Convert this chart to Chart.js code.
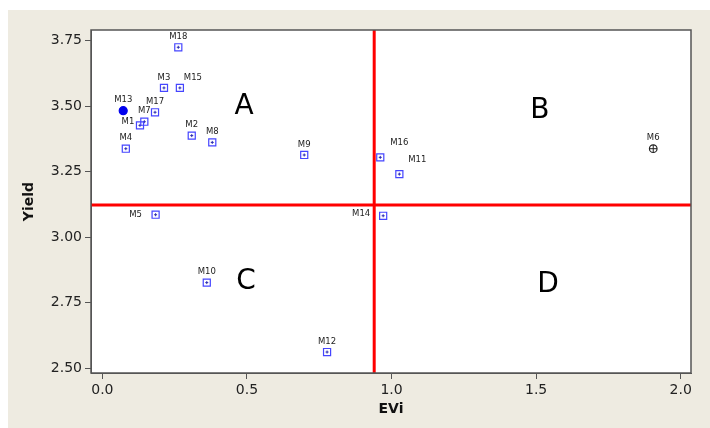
<!DOCTYPE html>
<html>
<head>
<meta charset="utf-8">
<title>Yield vs EVi</title>
<script src="https://cdn.jsdelivr.net/npm/chart.js@4/dist/chart.umd.min.js"></script>
<style>
  html, body { margin: 0; padding: 0; background: #ffffff; }
  canvas { display: block; }
</style>
</head>
<body>
<canvas id="chart" width="710" height="428"></canvas>
<script>
// Data
const names = ["M1", "M2", "M3", "M4", "M5", "M6", "M7", "M8", "M9", "M10",
  "M11", "M12", "M13", "M14", "M15", "M16", "M17", "M18"];
const evi = [0.130, 0.309, 0.213, 0.081, 0.184, 1.905, 0.145, 0.380, 0.698, 0.361,
  1.027, 0.777, 0.072, 0.971, 0.268, 0.961, 0.182, 0.2625];
const yieldVals = [3.427, 3.388, 3.570, 3.338, 3.086, 3.338, 3.441, 3.362, 3.314, 2.827,
  3.241, 2.562, 3.483, 3.082, 3.570, 3.305, 3.477, 3.725];

// Reference lines (mean EVi, mean yield)
const eviCut = 0.94;
const yieldCut = 3.123;

// Quadrant letters
const quadrantNames = ["A", "B", "C", "D"];
const quadrantEvi = [0.49, 1.513, 0.497, 1.541];
const quadrantYield = [3.497, 3.483, 2.832, 2.818];

// Tick labels
const xTicks = [0.0, 0.5, 1.0, 1.5, 2.0];
const yTicks = [2.50, 2.75, 3.00, 3.25, 3.50, 3.75];

const xMin = -0.0394, xMax = 2.0356;
const yMin = 2.482, yMax = 3.791;

// Label offsets in pixels (dx, dy) relative to each point
const labelOffsets = {
  M1: [-12, -4], M5: [-20, 0], M14: [-22, -2],
  M15: [13, -10], M16: [19, -15], M11: [18, -14]
};

const points = names.map((n, i) => ({ x: evi[i], y: yieldVals[i] }));

function markerStyle(ctx) {
  const n = names[ctx.dataIndex];
  if (n === "M13") return "circle";
  if (n === "M6") return "circle";
  return "rect";
}

const beige = "#eeebe1";

const backgroundPlugin = {
  id: "background",
  beforeDraw(chart) {
    const { ctx, chartArea } = chart;
    ctx.save();
    ctx.fillStyle = "#ffffff";
    ctx.fillRect(0, 0, chart.width, chart.height);
    ctx.fillStyle = beige;
    ctx.fillRect(8, 10, chart.width - 8, chart.height - 10);
    ctx.fillStyle = "#ffffff";
    ctx.fillRect(chartArea.left, chartArea.top,
      chartArea.right - chartArea.left, chartArea.bottom - chartArea.top);
    ctx.restore();
  },
  afterDraw(chart) {
    const { ctx, chartArea } = chart;
    ctx.save();
    ctx.strokeStyle = "#555555";
    ctx.lineWidth = 1.5;
    ctx.strokeRect(chartArea.left, chartArea.top,
      chartArea.right - chartArea.left, chartArea.bottom - chartArea.top);
    ctx.restore();
  }
};

const labelPlugin = {
  id: "pointLabels",
  afterDatasetsDraw(chart) {
    const { ctx } = chart;
    const xs = chart.scales.x;
    const ys = chart.scales.y;
    ctx.save();
    ctx.fillStyle = "#222222";
    ctx.font = "8.5px 'DejaVu Sans', sans-serif";
    ctx.textAlign = "center";
    ctx.textBaseline = "middle";
    names.forEach((n, i) => {
      const off = labelOffsets[n] || [0, -10.5];
      ctx.fillText(n, xs.getPixelForValue(evi[i]) + off[0], ys.getPixelForValue(yieldVals[i]) + off[1]);
    });
    ctx.fillStyle = "#000000";
    ctx.font = "28px 'DejaVu Sans', sans-serif";
    quadrantNames.forEach((q, i) => {
      ctx.fillText(q, xs.getPixelForValue(quadrantEvi[i]), ys.getPixelForValue(quadrantYield[i]));
    });
    ctx.restore();
  }
};

new Chart(document.getElementById("chart").getContext("2d"), {
  type: "scatter",
  data: {
    datasets: [
      {
        label: "cut-x",
        data: [{ x: eviCut, y: yMin }, { x: eviCut, y: yMax }],
        showLine: true,
        borderColor: "#ff0000",
        borderWidth: 3,
        pointRadius: 0
      },
      {
        label: "cut-y",
        data: [{ x: xMin, y: yieldCut }, { x: xMax, y: yieldCut }],
        showLine: true,
        borderColor: "#ff0000",
        borderWidth: 3,
        pointRadius: 0
      },
      {
        label: "genotypes",
        data: points,
        pointStyle: markerStyle,
        pointRadius: (ctx) => names[ctx.dataIndex] === "M6" ? 3.8 : (names[ctx.dataIndex] === "M13" ? 4 : 5),
        borderWidth: 1.2,
        borderColor: (ctx) => {
          const n = names[ctx.dataIndex];
          if (n === "M6") return "#222222";
          if (n === "M13") return "#0000ee";
          return "#4545ff";
        },
        backgroundColor: (ctx) => names[ctx.dataIndex] === "M13" ? "#0000ee" : "rgba(255,255,255,0)"
      },
      {
        label: "centres",
        data: points,
        pointStyle: "cross",
        pointRadius: (ctx) => names[ctx.dataIndex] === "M6" ? 3.8 : (names[ctx.dataIndex] === "M13" ? 0 : 1.5),
        borderWidth: 1,
        borderColor: (ctx) => names[ctx.dataIndex] === "M6" ? "#222222" : "#2a2ab0"
      }
    ]
  },
  options: {
    responsive: false,
    animation: false,
    events: [],
    layout: { padding: { left: 8, top: 30, right: 19, bottom: 0 } },
    plugins: {
      legend: { display: false },
      tooltip: { enabled: false }
    },
    scales: {
      x: {
        type: "linear",
        min: xMin,
        max: xMax,
        afterBuildTicks: (scale) => { scale.ticks = xTicks.map((v) => ({ value: v })); },
        afterFit: (scale) => { scale.height = 55; },
        ticks: {
          color: "#222222",
          padding: 3,
          font: { family: "'DejaVu Sans', sans-serif", size: 14 },
          callback: (v) => Number(v).toFixed(1)
        },
        grid: { drawOnChartArea: false, drawTicks: true, tickLength: 6, color: "#555555" },
        border: { display: true, color: "#555555" },
        title: {
          display: true,
          text: "EVi",
          color: "#111111",
          font: { family: "'DejaVu Sans', sans-serif", size: 14, weight: "bold" },
          padding: { top: 0, bottom: 10.5 }
        }
      },
      y: {
        type: "linear",
        min: yMin,
        max: yMax,
        afterBuildTicks: (scale) => { scale.ticks = yTicks.map((v) => ({ value: v })); },
        afterFit: (scale) => { scale.width = 83; },
        ticks: {
          color: "#222222",
          padding: 3,
          font: { family: "'DejaVu Sans', sans-serif", size: 14 },
          callback: (v) => Number(v).toFixed(2)
        },
        grid: { drawOnChartArea: false, drawTicks: true, tickLength: 6, color: "#555555" },
        border: { display: true, color: "#555555" },
        title: {
          display: true,
          text: "Yield",
          color: "#111111",
          font: { family: "'DejaVu Sans', sans-serif", size: 14, weight: "bold" },
          padding: { top: 12.5, bottom: 0 }
        }
      }
    }
  },
  plugins: [backgroundPlugin, labelPlugin]
});
</script>
</body>
</html>
